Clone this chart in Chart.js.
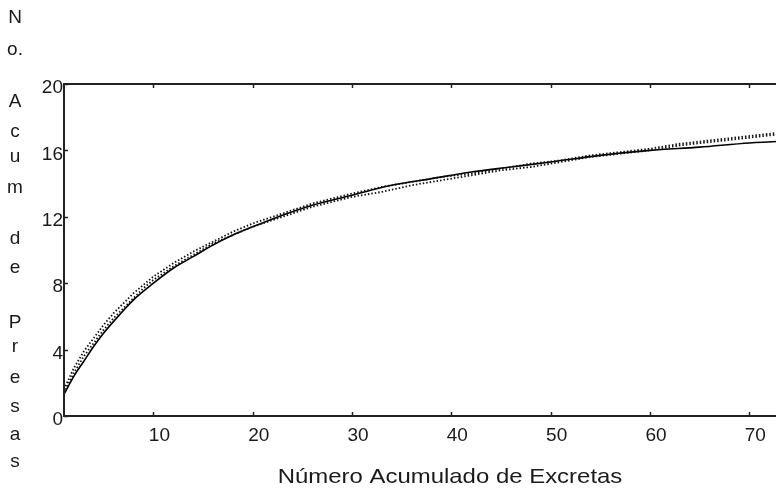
<!DOCTYPE html>
<html>
<head>
<meta charset="utf-8">
<script src="https://cdn.jsdelivr.net/npm/chart.js@4"></script>
<style>
  html, body { margin: 0; padding: 0; background: #fff; overflow: hidden; }
</style>
</head>
<body>
<canvas id="curveChart" width="800" height="490"></canvas>
<script>
// values
var fitX = [1, 2, 3, 4, 5, 6, 8, 10, 12, 14, 16, 18, 20, 23, 26, 30, 34, 38, 42, 46, 50, 55, 60, 65, 70, 75];
var fitY = [1.3, 2.4, 3.3, 4.2, 5.0, 5.7, 7.0, 8.0, 8.9, 9.6, 10.3, 10.9, 11.4, 12.1, 12.7, 13.3, 13.9, 14.3, 14.7, 15.0, 15.3, 15.7, 16.0, 16.2, 16.45, 16.6];

var sampleX = [1, 2, 3, 4, 5, 6, 7, 8, 9, 10, 12, 14, 16, 18, 20, 22, 24, 26, 28, 30, 33, 36, 39, 42, 45, 48, 51, 54, 57, 60, 63, 66, 69, 72, 75];
var obsUpper = [1.6, 2.9, 3.9, 4.7, 5.5, 6.2, 6.8, 7.4, 7.9, 8.4, 9.2, 9.9, 10.5, 11.1, 11.6, 12.0, 12.4, 12.8, 13.1, 13.4, 13.8, 14.1, 14.4, 14.6, 14.9, 15.2, 15.4, 15.7, 15.9, 16.1, 16.4, 16.6, 16.8, 17.0, 17.2];
var obsLower = [1.4, 2.6, 3.6, 4.4, 5.2, 5.9, 6.5, 7.1, 7.7, 8.2, 9.0, 9.7, 10.4, 10.9, 11.4, 11.8, 12.2, 12.6, 12.9, 13.2, 13.5, 13.9, 14.2, 14.5, 14.8, 15.0, 15.3, 15.6, 15.8, 16.0, 16.3, 16.5, 16.7, 16.9, 17.1];

var xTicks = [10, 20, 30, 40, 50, 60, 70];
var yTicks = [0, 4, 8, 12, 16, 20];

var xTitle = 'Número Acumulado de Excretas';
var yTitle = ['N', 'o.', 'A', 'c', 'u', 'm', 'd', 'e', 'P', 'r', 'e', 's', 'a', 's'];
var yTitlePos = [18, 50, 102, 132, 157, 188, 239, 268, 323, 347, 378, 407, 435, 462];

function toPoints(xs, ys) {
    return xs.map(function(x, i) { return { x: x, y: ys[i] }; });
}

var textColor = '#1a1a1a';

var framePlugin = {
    id: 'frame',
    afterDraw: function(chart) {
        var ctx = chart.ctx;
        var a = chart.chartArea;
        var xs = chart.scales.x, ys = chart.scales.y;
        ctx.save();
        ctx.strokeStyle = '#222';
        ctx.lineWidth = 2;
        ctx.strokeRect(a.left, a.top, a.right - a.left, a.bottom - a.top);
        // small inner tick marks
        ctx.lineWidth = 1.5;
        ctx.beginPath();
        xTicks.forEach(function(v) {
            var px = Math.round(xs.getPixelForValue(v)) + 0.5;
            ctx.moveTo(px, a.bottom); ctx.lineTo(px, a.bottom - 4);
            ctx.moveTo(px, a.top); ctx.lineTo(px, a.top + 4);
        });
        yTicks.forEach(function(v) {
            var py = Math.round(ys.getPixelForValue(v)) + 0.5;
            ctx.moveTo(a.left, py); ctx.lineTo(a.left + 4, py);
        });
        ctx.stroke();

        // titles
        ctx.fillStyle = textColor;
        ctx.font = '19px "Liberation Sans", Arial, sans-serif';
        ctx.textAlign = 'center';
        ctx.textBaseline = 'middle';
        yTitle.forEach(function(ch, i) {
            ctx.fillText(ch, 15, yTitlePos[i]);
        });
        ctx.font = '21px "Liberation Sans", Arial, sans-serif';
        ctx.textBaseline = 'alphabetic';
        ctx.translate(450, 483);
        ctx.scale(1.14, 1);
        ctx.fillText(xTitle, 0, 0);
        ctx.restore();
    }
};

var ctx1 = document.getElementById('curveChart').getContext('2d');
var curveChart = new Chart(ctx1, {
    type: 'line',
    data: {
        datasets: [{
            label: 'Observado',
            data: toPoints(sampleX, obsUpper),
            borderColor: '#111',
            borderWidth: 1.8,
            borderDash: [1.5, 2],
            pointRadius: 0,
            tension: 0
        }, {
            label: 'Observado 2',
            data: toPoints(sampleX, obsLower),
            borderColor: '#111',
            borderWidth: 1.8,
            borderDash: [1.5, 2],
            pointRadius: 0,
            tension: 0
        }, {
            label: 'Ajuste',
            data: toPoints(fitX, fitY),
            borderColor: '#000',
            borderWidth: 1.6,
            pointRadius: 0,
            cubicInterpolationMode: 'monotone'
        }]
    },
    options: {
        responsive: false,
        animation: false,
        layout: { padding: { top: 84, left: 0, right: 1, bottom: 0 } },
        plugins: {
            legend: { display: false },
            tooltip: { enabled: false }
        },
        scales: {
            x: {
                type: 'linear',
                min: 1,
                max: 75,
                grid: { display: false, drawTicks: false },
                border: { display: false },
                afterBuildTicks: function(scale) {
                    scale.ticks = xTicks.map(function(v) { return { value: v }; });
                },
                afterFit: function(scale) { scale.height = 74; },
                ticks: {
                    color: textColor,
                    font: { family: '"Liberation Sans", Arial, sans-serif', size: 19 },
                    padding: 8,
                    labelOffset: 6,
                    maxRotation: 0,
                    autoSkip: false
                }
            },
            y: {
                min: 0,
                max: 20,
                grid: { display: false, drawTicks: false },
                border: { display: false },
                afterBuildTicks: function(scale) {
                    scale.ticks = yTicks.map(function(v) { return { value: v }; });
                },
                afterFit: function(scale) { scale.width = 64; },
                ticks: {
                    color: textColor,
                    font: { family: '"Liberation Sans", Arial, sans-serif', size: 19 },
                    padding: 1,
                    labelOffset: 4,
                    autoSkip: false
                }
            }
        }
    },
    plugins: [framePlugin]
});
</script>
</body>
</html>
